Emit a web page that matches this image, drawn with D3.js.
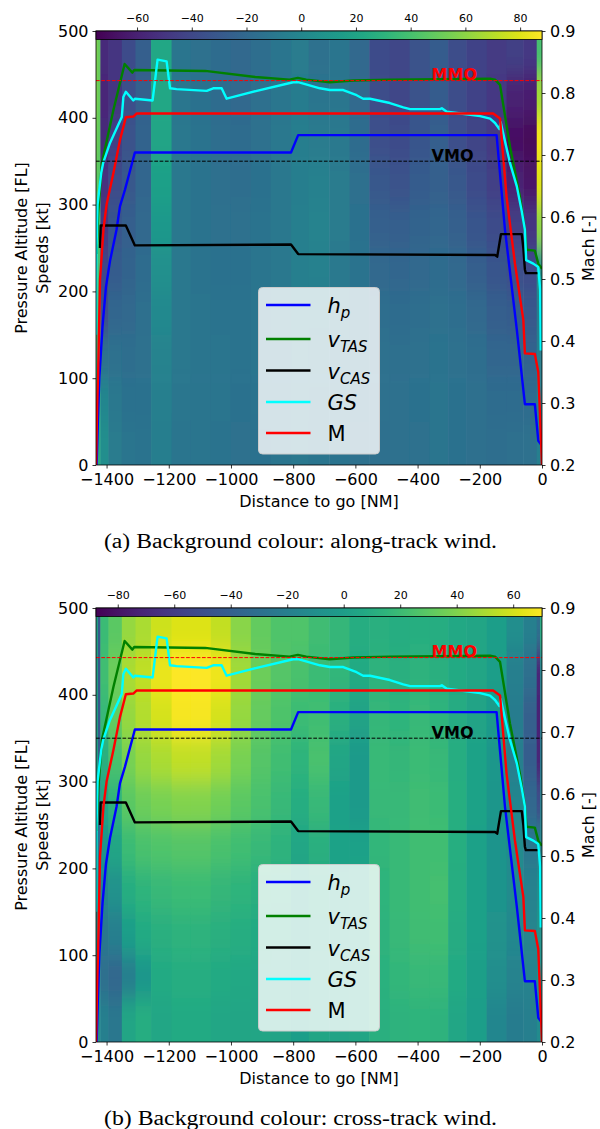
<!DOCTYPE html>
<html>
<head>
<meta charset="utf-8">
<script src="https://cdn.jsdelivr.net/npm/d3@7"></script>
<style>
  body { margin: 0; background: #fff; }
  text { font-family: "DejaVu Sans", sans-serif; }
</style>
</head>
<body>
<svg width="600" height="1129"></svg>
<script>
// ---- data ----
const distDomain = [-1434, 0];
const altTicks = [0, 100, 200, 300, 400, 500];
const distTicks = [-1400, -1200, -1000, -800, -600, -400, -200, 0];
const machTicks = [0.2, 0.3, 0.4, 0.5, 0.6, 0.7, 0.8, 0.9];
const alongTicks = [-60, -40, -20, 0, 20, 40, 60, 80];
const crossTicks = [-80, -60, -40, -20, 0, 20, 40, 60];
const alongRange = [-75, 88];
const crossRange = [-87.7, 70.2];

// wind grid: column edges in NM, altitude bands in FL
const distEdges = [-1435, -1428, -1420, -1394, -1351, -1307, -1257, -1191, -1130, -1065, -1001,
  -936, -872, -807, -750, -684, -619, -555, -490, -426, -361, -302, -243, -178, -114, -60, -17, -6, 0];
const altEdges = [0, 50, 100, 150, 200, 250, 300, 350, 400, 450, 500];

// one entry per column, values from the top band (450-500) down to (0-50)
const windAlong = [
  [55, 55, 52, 48, 45, 42, 40, 35, 30, 28],
  [50, 50, 48, 45, 42, 40, 38, 33, 28, 25],
  [-55, -57, -55, -52, -48, -40, -35, -15, 0, 5],
  [-50, -50, -45, -38, -32, -28, -22, -15, -10, -8],
  [-38, -36, -34, -30, -27, -24, -20, -17, -14, -12],
  [-26, -25, -24, -22, -20, -18, -16, -15, -14, -13],
  [22, 22, 20, 17, 12, 6, 2, -2, -5, -6],
  [-12, -11, -10, -10, -10, -10, -10, -10, -11, -12],
  [-15, -14, -13, -13, -13, -13, -12, -12, -12, -12],
  [-18, -18, -17, -16, -15, -14, -13, -12, -12, -13],
  [-20, -20, -18, -17, -15, -14, -13, -13, -14, -15],
  [-17, -16, -15, -14, -13, -12, -12, -12, -13, -14],
  [-12, -11, -10, -10, -10, -10, -10, -11, -12, -12],
  [-8, -7, -6, -6, -5, -5, -6, -8, -10, -10],
  [-15, -12, -8, -4, -2, -4, -7, -9, -11, -12],
  [-12, -11, -9, -8, -8, -9, -10, -11, -12, -13],
  [-20, -19, -18, -16, -14, -13, -13, -13, -14, -15],
  [-38, -37, -35, -30, -25, -20, -17, -15, -15, -16],
  [-40, -40, -38, -33, -27, -22, -18, -16, -15, -15],
  [-34, -34, -32, -28, -24, -20, -17, -15, -14, -15],
  [-28, -28, -27, -25, -22, -18, -15, -13, -12, -12],
  [-37, -37, -35, -30, -25, -20, -17, -15, -14, -14],
  [-43, -43, -42, -38, -32, -26, -20, -17, -16, -16],
  [-47, -48, -47, -44, -38, -32, -26, -22, -18, -17],
  [-45, -60, -68, -60, -45, -35, -28, -22, -18, -16],
  [-48, -62, -72, -66, -50, -38, -30, -24, -18, -15],
  [40, 65, 85, 80, 60, 10, -5, -5, -5, -5],
  [40, 65, 85, 80, 60, 10, -5, -5, -5, -5]
];

const windCross = [
  [5, 5, 5, 5, 3, 0, -3, -5, -8, -8],
  [-45, -45, -45, -43, -40, -30, -20, -15, -12, -10],
  [20, 22, 18, 12, 5, -5, -15, -25, -30, -20],
  [30, 35, 32, 25, 15, 5, -8, -20, -35, -25],
  [45, 50, 45, 38, 30, 20, 10, 0, -20, 5],
  [50, 55, 52, 45, 35, 25, 15, 8, -5, 10],
  [58, 65, 60, 50, 38, 27, 18, 12, 8, 6],
  [62, 70, 68, 55, 40, 28, 20, 14, 10, 8],
  [62, 70, 68, 55, 40, 28, 20, 14, 10, 8],
  [56, 66, 60, 48, 36, 25, 17, 12, 8, 6],
  [42, 48, 45, 38, 30, 22, 15, 10, 7, 5],
  [32, 35, 33, 28, 24, 18, 12, 8, 6, 5],
  [27, 28, 26, 22, 18, 14, 10, 7, 5, 4],
  [27, 25, 20, 15, 10, 6, 3, 1, 0, 0],
  [21, 20, 22, 24, 18, 12, 8, 6, 5, 5],
  [17, 16, 12, 5, 2, 3, 4, 5, 5, 4],
  [10, 8, 4, -2, -2, 2, 5, 6, 6, 5],
  [12, 14, 17, 19, 18, 16, 15, 14, 13, 12],
  [10, 12, 15, 17, 18, 19, 19, 18, 16, 14],
  [11, 14, 18, 20, 21, 22, 22, 21, 18, 15],
  [10, 12, 15, 18, 20, 22, 23, 22, 18, 14],
  [7, 8, 9, 10, 11, 11, 10, 9, 8, 6],
  [5, 5, 4, 3, 3, 2, 2, 2, 1, 0],
  [0, 0, -2, -4, -5, -6, -6, -7, -10, -15],
  [-10, -20, -22, -20, -15, -12, -12, -14, -17, -22],
  [-20, -30, -40, -42, -35, -25, -18, -16, -18, -20],
  [-30, -70, -72, -70, -50, -20, -10, -8, -10, -12],
  [10, -15, -20, -22, -20, -15, -10, -8, -8, -8]
];

// flight profile: [distance to go NM, value]
const hpTrack = [[-1432, 0], [-1428, 50], [-1423, 102], [-1413, 160], [-1402, 205], [-1389, 235],
  [-1368, 271], [-1357, 298], [-1341, 317], [-1309, 360], [-807, 360], [-784, 380], [-146, 380],
  [-119, 271], [-81, 156], [-55, 70], [-23, 70], [-12, 28], [0, 22]];
const tasTrack = [[-1432, 243], [-1427, 290], [-1415, 348], [-1378, 409], [-1342, 462], [-1317, 452],
  [-1311, 455], [-1083, 454], [-922, 447], [-812, 444], [-785, 446], [-758, 444], [-683, 441],
  [-607, 443], [-489, 444], [-167, 445], [-151, 444], [-135, 438], [-103, 367], [-71, 309],
  [-55, 271], [-50, 248], [-23, 247], [-12, 232], [0, 226]];
const casTrack = [[-1421, 250], [-1419, 276], [-1338, 276], [-1309, 253], [-807, 254], [-784, 243],
  [-151, 242], [-144, 240], [-132, 266], [-65, 266], [-60, 250], [-55, 225], [-52, 221], [-12, 221]];
const gsTrack = [[-1434, 150], [-1433, 240], [-1429, 300], [-1417, 337], [-1411, 348], [-1389, 371],
  [-1351, 401], [-1346, 424], [-1338, 430], [-1314, 420], [-1309, 422], [-1252, 420], [-1236, 467],
  [-1207, 465], [-1196, 434], [-1175, 433], [-1078, 431], [-1057, 434], [-1030, 434], [-1014, 422],
  [-917, 431], [-800, 441], [-784, 441], [-714, 434], [-682, 432], [-639, 432], [-596, 426],
  [-575, 422], [-553, 422], [-489, 417], [-446, 412], [-424, 410], [-328, 410], [-322, 411],
  [-306, 407], [-199, 402], [-167, 399], [-151, 394], [-137, 387], [-133, 395], [-103, 348],
  [-81, 321], [-65, 292], [-55, 271], [-51, 236], [-28, 232], [-12, 228], [-6, 202], [-4, 132]];
const machTrack = [[-1434, 0.2], [-1430, 0.30], [-1427, 0.35], [-1421, 0.50], [-1410, 0.58],
  [-1400, 0.62], [-1378, 0.671], [-1357, 0.724], [-1338, 0.761], [-1314, 0.762], [-1303, 0.767],
  [-157, 0.767], [-135, 0.759], [-114, 0.633], [-87, 0.525], [-71, 0.471], [-60, 0.434],
  [-55, 0.38], [-23, 0.379], [-12, 0.35], [0, 0.2]];
const mmo = 0.82, vmo = 350;

// ---- drawing ----
const svg = d3.select("svg");
const plotL = 96, plotR = 542, plotH = 434, cbarH = 8.5;
const panels = [
  { top: 31, wind: windAlong, range: alongRange, ticks: alongTicks,
    caption: "(a) Background colour: along-track wind.", capY: 548 },
  { top: 608, wind: windCross, range: crossRange, ticks: crossTicks,
    caption: "(b) Background colour: cross-track wind.", capY: 1125 }
];

const defs = svg.append("defs");
const grad = defs.append("linearGradient").attr("id", "viridis");
d3.range(0, 1.0001, 0.05).forEach(t => {
  grad.append("stop").attr("offset", t).attr("stop-color", d3.interpolateViridis(t));
});

panels.forEach((p, i) => {
  const top = p.top, bottom = top + plotH;
  const x = d3.scaleLinear().domain(distDomain).range([plotL, plotR]);
  const y = d3.scaleLinear().domain([0, 500]).range([bottom, top]);
  const ym = d3.scaleLinear().domain([0.2, 0.9]).range([bottom, top]);
  const color = d3.scaleSequential(d3.interpolateViridis).domain(p.range);
  const g = svg.append("g");

  defs.append("clipPath").attr("id", "clip" + i)
    .append("rect").attr("x", plotL).attr("y", top).attr("width", plotR - plotL).attr("height", plotH);
  // soften the altitude bands only (columns stay sharp), like the shaded mesh
  defs.append("filter").attr("id", "vblur" + i).attr("filterUnits", "userSpaceOnUse")
    .attr("x", plotL - 20).attr("y", top - 60).attr("width", plotR - plotL + 40).attr("height", plotH + 120)
    .append("feGaussianBlur").attr("stdDeviation", "0 11");
  const plot = g.append("g").attr("clip-path", "url(#clip" + i + ")");

  // wind cells
  const cells = [];
  const nb = altEdges.length - 1;
  p.wind.forEach((col, c) => col.forEach((v, k) => {
    cells.push({ x0: distEdges[c], x1: distEdges[c + 1], a0: altEdges[nb - 1 - k], a1: altEdges[nb - k], k, v });
  }));
  const pad = 50;
  plot.append("g").attr("filter", "url(#vblur" + i + ")")
    .selectAll("rect.cell").data(cells).enter().append("rect")
    .attr("class", "cell")
    .attr("x", d => x(d.x0))
    .attr("y", d => y(d.a1) - (d.k === 0 ? pad : 0))
    .attr("width", d => x(d.x1) - x(d.x0) + 0.5)
    .attr("height", d => y(d.a0) - y(d.a1) + 0.5 + (d.k === 0 || d.k === nb - 1 ? pad : 0))
    .attr("fill", d => color(d.v));

  const line = d3.line().x(d => x(d[0])).y(d => y(d[1]));
  const lineM = d3.line().x(d => x(d[0])).y(d => ym(d[1]));
  const series = [
    { data: hpTrack, c: "#0000ff", f: line },
    { data: tasTrack, c: "#008000", f: line },
    { data: casTrack, c: "#000000", f: line },
    { data: gsTrack, c: "#00ffff", f: line },
    { data: machTrack, c: "#ff0000", f: lineM }
  ];
  series.forEach(s => {
    plot.append("path").attr("d", s.f(s.data)).attr("fill", "none")
      .attr("stroke", s.c).attr("stroke-width", 2.4).attr("stroke-linejoin", "round");
  });

  // limits
  plot.append("line").attr("x1", plotL).attr("x2", plotR).attr("y1", ym(mmo)).attr("y2", ym(mmo))
    .attr("stroke", "#ff0000").attr("stroke-width", 1).attr("stroke-dasharray", "3.7,1.6");
  plot.append("line").attr("x1", plotL).attr("x2", plotR).attr("y1", y(vmo)).attr("y2", y(vmo))
    .attr("stroke", "#000").attr("stroke-width", 1).attr("stroke-dasharray", "3.7,1.6");
  g.append("text").attr("x", x(-355)).attr("y", ym(mmo) - 1).attr("font-size", 16)
    .attr("font-weight", "bold").attr("fill", "#ff0000").text("MMO");
  g.append("text").attr("x", x(-355)).attr("y", y(vmo) - 0.5).attr("font-size", 16)
    .attr("font-weight", "bold").attr("fill", "#000").text("VMO");

  // frame
  g.append("rect").attr("x", plotL).attr("y", top).attr("width", plotR - plotL).attr("height", plotH)
    .attr("fill", "none").attr("stroke", "#000").attr("stroke-width", 0.8);

  // axes
  const styleAxis = (sel, fs) => {
    sel.select(".domain").remove();
    sel.selectAll(".tick line").attr("stroke", "#000").attr("stroke-width", 0.8);
    sel.selectAll(".tick text").attr("font-size", fs).attr("fill", "#000");
  };
  g.append("g").attr("transform", `translate(${plotL},0)`)
    .call(d3.axisLeft(y).tickValues(altTicks).tickSize(3.5).tickPadding(4))
    .call(s => styleAxis(s, 16));
  g.append("g").attr("transform", `translate(${plotR},0)`)
    .call(d3.axisRight(ym).tickValues(machTicks).tickFormat(d3.format(".1f")).tickSize(3.5).tickPadding(4.5))
    .call(s => styleAxis(s, 16));
  g.append("g").attr("transform", `translate(0,${bottom})`)
    .call(d3.axisBottom(x).tickValues(distTicks).tickFormat(d3.format("d")).tickSize(3.5).tickPadding(5))
    .call(s => styleAxis(s, 16));

  // colour bar on top
  const cx = d3.scaleLinear().domain(p.range).range([plotL, plotR]);
  g.append("rect").attr("x", plotL).attr("y", top).attr("width", plotR - plotL).attr("height", cbarH)
    .attr("fill", "url(#viridis)").attr("stroke", "#000").attr("stroke-width", 0.8);
  g.append("g").attr("transform", `translate(0,${top})`)
    .call(d3.axisTop(cx).tickValues(p.ticks).tickFormat(d3.format("d")).tickSize(3.5).tickPadding(6))
    .call(s => styleAxis(s, 11));

  // axis labels
  g.append("text").attr("transform", `translate(27,${top + plotH / 2}) rotate(-90)`)
    .attr("text-anchor", "middle").attr("font-size", 16).text("Pressure Altitude [FL]");
  g.append("text").attr("transform", `translate(48,${top + plotH / 2}) rotate(-90)`)
    .attr("text-anchor", "middle").attr("font-size", 16).text("Speeds [kt]");
  g.append("text").attr("transform", `translate(594,${top + plotH / 2}) rotate(-90)`)
    .attr("text-anchor", "middle").attr("font-size", 16).text("Mach [-]");
  g.append("text").attr("x", (plotL + plotR) / 2).attr("y", bottom + 42)
    .attr("text-anchor", "middle").attr("font-size", 16).text("Distance to go [NM]");

  // legend
  const lg = g.append("g").attr("transform", `translate(258.5,${top + 256.5})`);
  lg.append("rect").attr("width", 121).attr("height", 166.5).attr("rx", 4)
    .attr("fill", "#fff").attr("fill-opacity", 0.8).attr("stroke", "#cccccc").attr("stroke-width", 1);
  const entries = [
    { c: "#0000ff", y: 17.5, main: "h", sub: "p", it: true },
    { c: "#008000", y: 51.5, main: "v", sub: "TAS", it: true },
    { c: "#000000", y: 83, main: "v", sub: "CAS", it: true },
    { c: "#00ffff", y: 114.5, main: "GS", sub: null, it: true },
    { c: "#ff0000", y: 145.5, main: "M", sub: null, it: false }
  ];
  entries.forEach(e => {
    lg.append("line").attr("x1", 7.5).attr("x2", 52).attr("y1", e.y).attr("y2", e.y)
      .attr("stroke", e.c).attr("stroke-width", 2.4);
    const t = lg.append("text").attr("x", 69).attr("y", e.y + 8).attr("font-size", 21);
    t.append("tspan").attr("font-style", e.it ? "italic" : "normal").text(e.main);
    if (e.sub) {
      t.append("tspan").attr("font-style", "italic").attr("font-size", 15).attr("dy", 5).text(e.sub);
    }
  });

  // caption
  svg.append("text").attr("x", 300.5).attr("y", p.capY).attr("text-anchor", "middle")
    .style("font-family", "'Liberation Serif', serif").attr("font-size", 20)
    .attr("textLength", 393).attr("lengthAdjust", "spacingAndGlyphs")
    .attr("fill", "#000").text(p.caption);
});
</script>
</body>
</html>
